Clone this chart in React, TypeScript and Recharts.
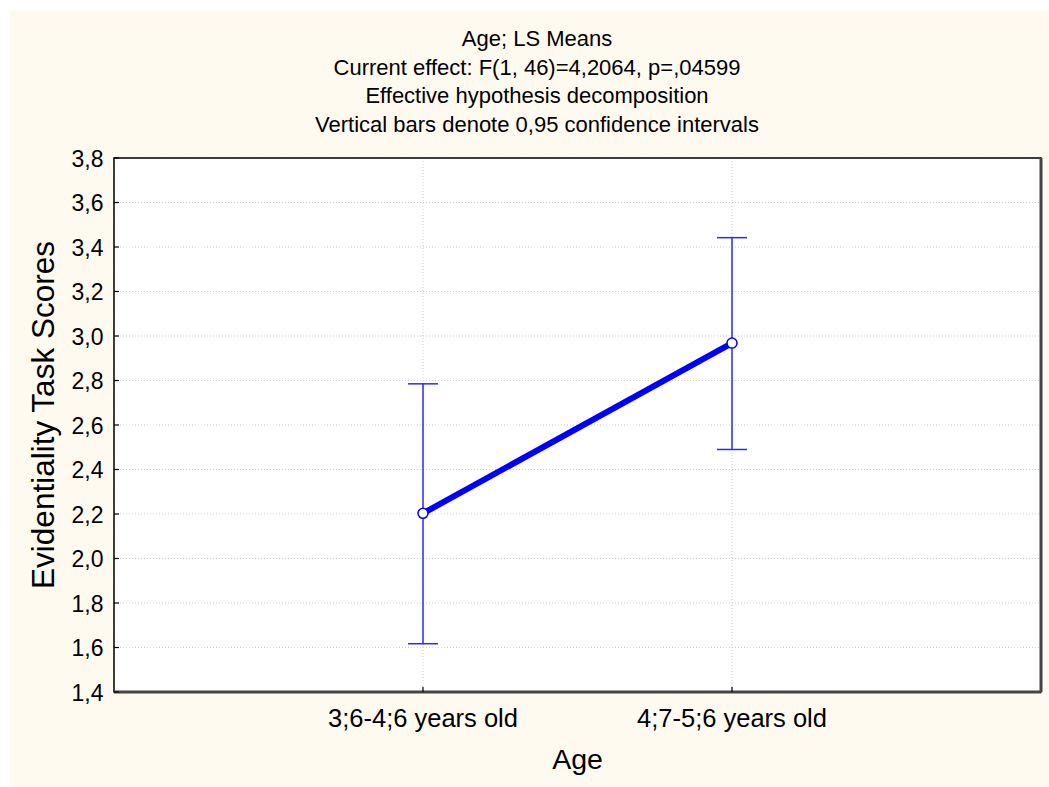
import {
  CartesianGrid,
  ComposedChart,
  ErrorBar,
  Line,
  ReferenceArea,
  ReferenceLine,
  XAxis,
  YAxis,
} from "recharts";

const categories = ["3;6-4;6 years old", "4;7-5;6 years old"];
const means = [2.203, 2.968];
const ciLow = [1.617, 2.49];
const ciHigh = [2.785, 3.442];
const yTicks = [1.4, 1.6, 1.8, 2.0, 2.2, 2.4, 2.6, 2.8, 3.0, 3.2, 3.4, 3.6, 3.8];
const titleLines = [
  "Age; LS Means",
  "Current effect: F(1, 46)=4,2064, p=,04599",
  "Effective hypothesis decomposition",
  "Vertical bars denote 0,95 confidence intervals",
];

const data = categories.map((name, i) => ({
  pos: i + 1,
  name,
  mean: means[i],
  err: [means[i] - ciLow[i], ciHigh[i] - means[i]],
}));

const font = "'Liberation Sans', Arial, sans-serif";
const fmt = (v: number) => v.toFixed(1).replace(".", ",");

function LeftTick(props: any) {
  const { x, y, payload } = props;
  return (
    <g>
      <line x1={x} y1={y} x2={x + 5} y2={y} stroke="#000" strokeWidth={1.2} />
      <text x={x - 10.5} y={y + 8.5} textAnchor="end" fontSize={23} fontFamily={font} fill="#000">
        {fmt(payload.value)}
      </text>
    </g>
  );
}

function RightTick(props: any) {
  const { x, y } = props;
  return <line x1={x} y1={y} x2={x - 5} y2={y} stroke="#000" strokeWidth={1.2} />;
}

function BottomTick(props: any) {
  const { x, y, payload } = props;
  return (
    <g>
      <line x1={x} y1={y} x2={x} y2={y - 5} stroke="#000" strokeWidth={1.2} />
      <text x={x} y={y + 35} textAnchor="middle" fontSize={25.5} fontFamily={font} fill="#000">
        {categories[payload.value - 1]}
      </text>
    </g>
  );
}

function TopTick(props: any) {
  const { x, y } = props;
  return <line x1={x} y1={y} x2={x} y2={y + 5} stroke="#000" strokeWidth={1.2} />;
}

export default function App() {
  return (
    <div style={{ position: "absolute", left: 0, top: 0, width: 1049, height: 787, background: "#fff" }}>
      <div style={{ position: "absolute", left: 10, top: 11, width: 1039, height: 776, background: "#fffaf0" }}>
        <ComposedChart
          width={1039}
          height={776}
          data={data}
          margin={{ top: 147, right: 0, bottom: 0, left: 0 }}
        >
          <CartesianGrid fill="#fff" stroke="#cfcfcf" strokeDasharray="1 2" />
          <XAxis
            dataKey="pos"
            type="number"
            domain={[0, 3]}
            ticks={[1, 2]}
            height={95}
            axisLine={false}
            tickLine={false}
            tickSize={0}
            tickMargin={0}
            tick={<BottomTick />}
          />
          <XAxis
            xAxisId="t"
            orientation="top"
            type="number"
            domain={[0, 3]}
            ticks={[1, 2]}
            height={0}
            axisLine={false}
            tickLine={false}
            tickSize={0}
            tickMargin={0}
            tick={<TopTick />}
          />
          <YAxis
            type="number"
            domain={[1.4, 3.8]}
            ticks={yTicks}
            width={104}
            axisLine={false}
            tickLine={false}
            tickSize={0}
            tickMargin={0}
            tick={<LeftTick />}
          />
          <YAxis
            yAxisId="r"
            orientation="right"
            type="number"
            domain={[1.4, 3.8]}
            ticks={yTicks}
            width={8}
            axisLine={false}
            tickLine={false}
            tickSize={0}
            tickMargin={0}
            tick={<RightTick />}
          />
          <ReferenceLine x={3} stroke="#444" strokeWidth={3} />
          <ReferenceLine y={1.4} stroke="#444" strokeWidth={3} />
          <ReferenceArea x1={0} x2={3} y1={1.4} y2={3.8} fill="none" stroke="#000" strokeWidth={1.5} />
          <Line
            dataKey="mean"
            stroke="#0000ff"
            strokeWidth={6}
            isAnimationActive={false}
            dot={{ r: 5, fill: "#fff", stroke: "#0000ff", strokeWidth: 1.5 }}
            activeDot={false}
          >
            <ErrorBar dataKey="err" direction="y" width={15} stroke="#2a2aff" strokeWidth={1.5} isAnimationActive={false} />
          </Line>
        </ComposedChart>
      </div>
      <svg width={1049} height={787} style={{ position: "absolute", left: 0, top: 0, pointerEvents: "none" }}>
        {titleLines.map((t, i) => (
          <text key={t} x={537} y={46 + i * 28.5} textAnchor="middle" fontSize={22} fontFamily={font} fill="#000">
            {t}
          </text>
        ))}
        <text
          transform="translate(54,415) rotate(-90)"
          textAnchor="middle"
          fontSize={31.5}
          fontFamily={font}
          fill="#000"
        >
          Evidentiality Task Scores
        </text>
        <text x={577.5} y={769} textAnchor="middle" fontSize={28.5} fontFamily={font} fill="#000">
          Age
        </text>
      </svg>
    </div>
  );
}
